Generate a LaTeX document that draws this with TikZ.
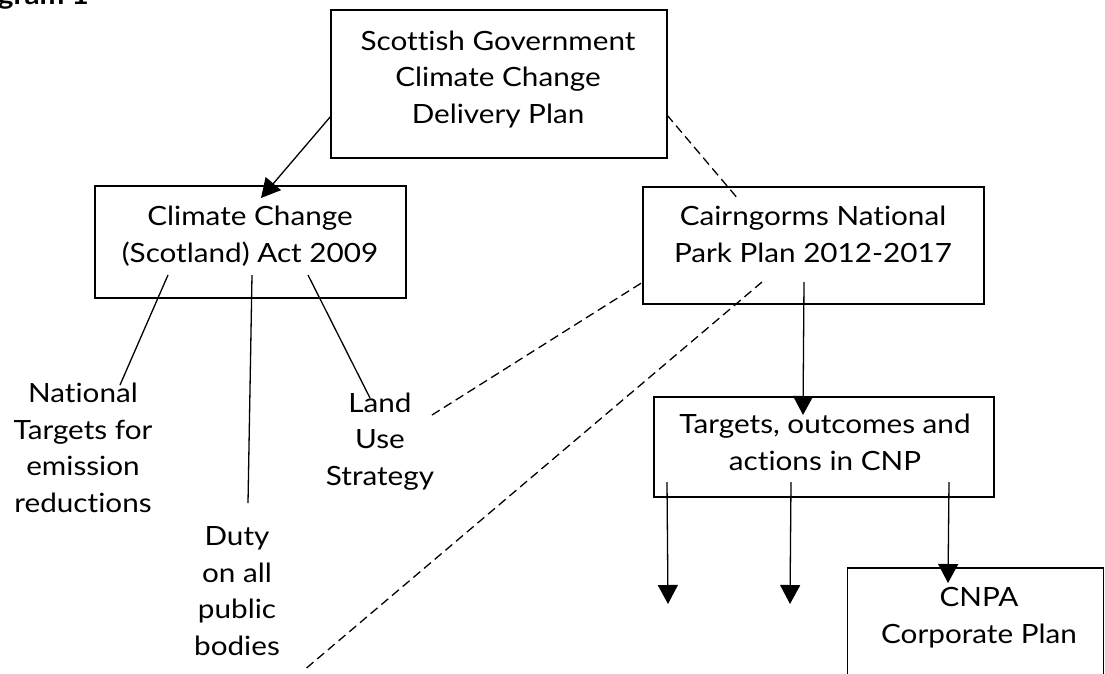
\documentclass[tikz,border=0pt]{standalone}
\usepackage{fontspec}
\setmainfont{Lato}[FakeStretch=1.12, Ligatures=NoCommon]
\usetikzlibrary{arrows.meta}

\begin{document}
\begin{tikzpicture}[x=1pt,y=-1pt,
  box/.style={draw, line width=1.6pt, inner sep=0pt},
  txt/.style={align=center, inner sep=0pt, anchor=base,
              font=\fontsize{26.5}{36.5}\selectfont},
  link/.style={line width=1.3pt},
  arr/.style={link, -{Triangle[length=19pt,width=20pt]}},
  dsh/.style={link, dash pattern=on 9pt off 5pt}]
\useasboundingbox (0,0) rectangle (1105,673);

% heading, cut by the page edge
\node[anchor=base east, inner sep=0pt, font=\fontsize{26.5}{30}\bfseries\selectfont]
  (head) at (89,4) {Diagram 1};

% boxes
\node[box, minimum width=336pt, minimum height=148pt] (sg)   at (499,84)  {};
\node[box, minimum width=311pt, minimum height=112pt] (act)  at (250.5,242) {};
\node[box, minimum width=341pt, minimum height=117pt] (cnp)  at (813.5,245.5) {};
\node[box, minimum width=340pt, minimum height=100pt] (tgt)  at (824,447) {};
\node[box, minimum width=256pt, minimum height=130pt] (cnpa) at (975.5,633) {};

% box texts (anchored on the baseline of the last line)
\node[txt] (sgt)   at (498,123) {Scottish Government\\Climate Change\\Delivery Plan};
\node[txt] (actt)  at (250,262) {Climate Change\\(Scotland) Act 2009};
\node[txt] (cnpt)  at (813,262) {Cairngorms National\\Park Plan 2012-2017};
\node[txt] (tgtt)  at (825,470) {Targets, outcomes and\\actions in CNP};
\node[txt] (cnpat) at (979,643) {CNPA\\Corporate Plan};

% free labels
\node[txt] (nat)  at (83,512)  {National\\Targets for\\emission\\reductions};
\node[txt] (land) at (380,485) {Land\\Use\\Strategy};
\node[txt] (duty) at (237,655) {Duty\\on all\\public\\bodies};

% connector ends
\coordinate (sgL)   at (331,116);
\coordinate (actIn) at (261,198);
\coordinate (sgR)   at (667,115);
\coordinate (cnpIn) at (739,200);
\coordinate (a1) at (168,275);
\coordinate (a2) at (252,275);
\coordinate (a3) at (308,275);
\coordinate (natT)  at (120,385);
\coordinate (dutyT) at (248,503);
\coordinate (landT) at (370,398);
\coordinate (landR) at (432,415);
\coordinate (cnpL)  at (643,282);
\coordinate (c1)    at (762,282);
\coordinate (cEnd)  at (303,671);
\coordinate (c2)    at (804,282);
\coordinate (tgtIn) at (803,415);
\coordinate (t1) at (667,482);
\coordinate (t2) at (791,482);
\coordinate (t3) at (949,482);
\coordinate (t1e) at (668,604);
\coordinate (t2e) at (790,604);
\coordinate (cnpaIn) at (948,583);

% connectors
\draw[arr] (sgL) -- (actIn);
\draw[dsh] (sgR) -- (cnpIn);
\draw[link] (a1) -- (natT);
\draw[link] (a2) -- (dutyT);
\draw[link] (a3) -- (landT);
\draw[dsh] (landR) -- (cnpL);
\draw[dsh] (c1) -- (cEnd);
\draw[arr] (c2) -- (tgtIn);
\draw[arr] (t1) -- (t1e);
\draw[arr] (t2) -- (t2e);
\draw[arr] (t3) -- (cnpaIn);
\end{tikzpicture}
\end{document}
